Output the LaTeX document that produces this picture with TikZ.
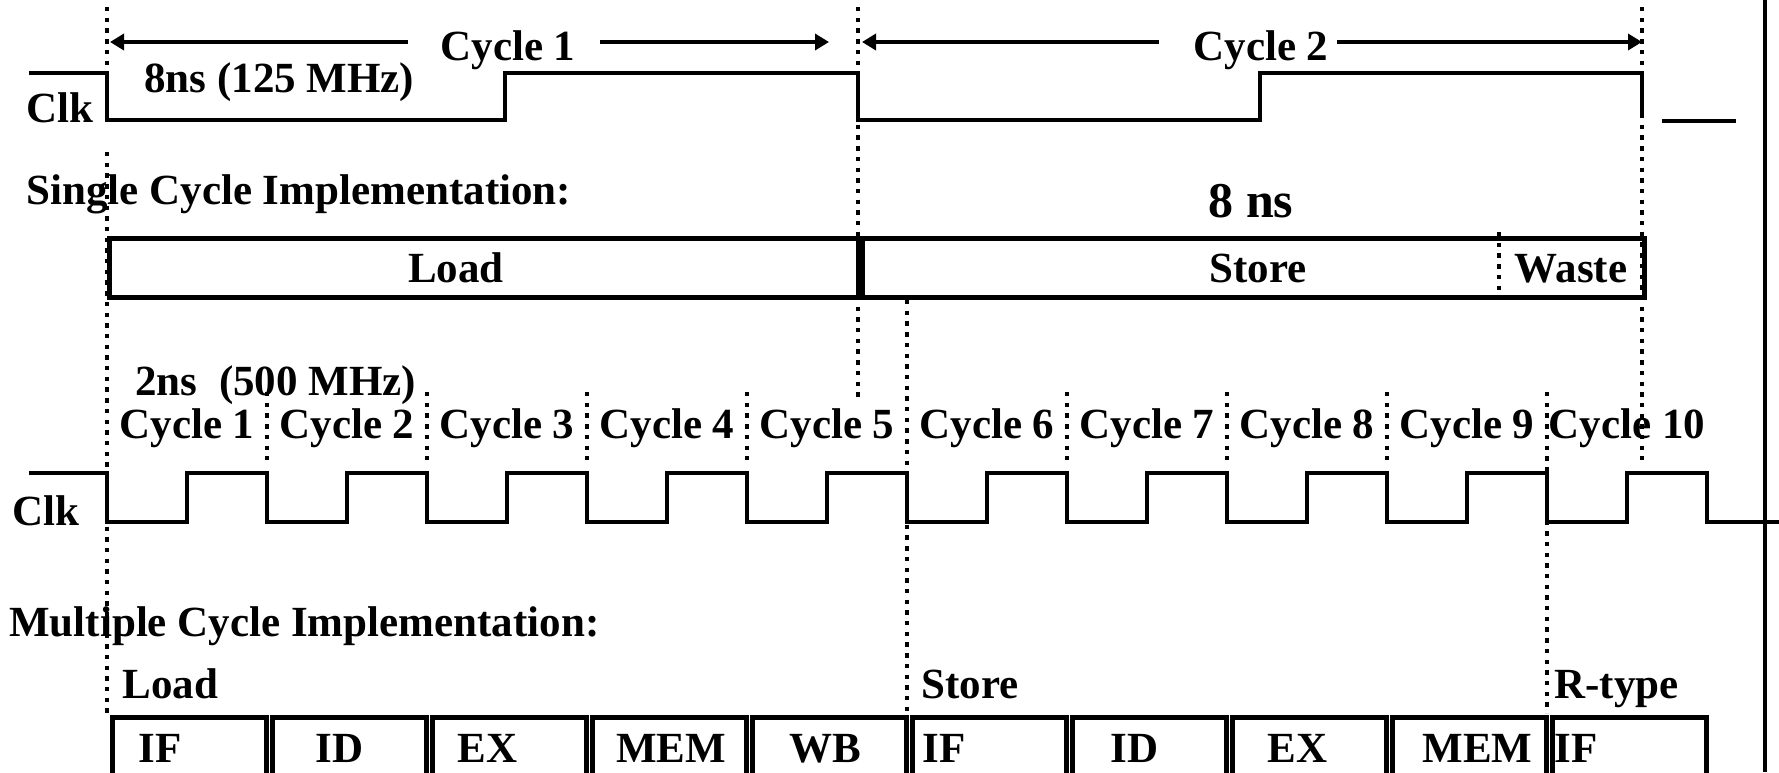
\documentclass[tikz,border=0pt]{standalone}
\usepackage{fontspec}
\setmainfont{Liberation Serif}
\usetikzlibrary{arrows.meta}

\begin{document}
\begin{tikzpicture}[
    x=0.5pt, y=-0.5pt,
    lbl/.style={inner sep=0pt, font=\bfseries\fontsize{21.5}{24}\selectfont},
    big/.style={inner sep=0pt, font=\bfseries\fontsize{25}{28}\selectfont},
    wave/.style={line width=2.3pt},
    guide/.style={line width=2.2pt, dash pattern=on 2.2pt off 3.15pt},
    span/.style={-{Triangle[length=7pt,width=8pt]}, line width=2.3pt},
    stage/.style={rectangle, draw, line width=2.3pt, inner sep=0pt, anchor=north west}
]
\useasboundingbox (0,0) rectangle (1779,772);

\draw[guide] (107,7) -- (107,77);
\draw[guide] (107,152) -- (107,713);
\draw[guide] (858,7) -- (858,397);
\draw[guide] (1642,7) -- (1642,460);
\draw[guide] (907,300) -- (907,713);
\draw[guide] (1547,392) -- (1547,713);
\draw[guide] (1499,232) -- (1499,298);
\foreach \x in {267,427,587,747,1067,1227,1387}
    \draw[guide] (\x,392) -- (\x,460);

\node[lbl, anchor=base west] (clka) at (26,122) {Clk};
\node[lbl, anchor=base west] (period1) at (144,92) {8ns (125 MHz)};
\node[lbl, anchor=base] (cyc1) at (508,60) {Cycle 1};
\node[lbl, anchor=base] (cyc2) at (1261,60) {Cycle 2};
\coordinate (c1a) at (408,42); \coordinate (c1b) at (110,42);
\coordinate (c1c) at (600,42); \coordinate (c1d) at (829,42);
\coordinate (c2a) at (1159,42); \coordinate (c2b) at (862,42);
\coordinate (c2c) at (1337,42); \coordinate (c2d) at (1642,42);
\draw[span] (c1a) -- (c1b);
\draw[span] (c1c) -- (c1d);
\draw[span] (c2a) -- (c2b);
\draw[span] (c2c) -- (c2d);

\draw[wave] (29,73) -- (107,73) -- (107,120) -- (505,120) -- (505,73) -- (858,73) -- (858,120)
    -- (1260,120) -- (1260,73) -- (1642,73) -- (1642,118);
\draw[wave] (1662,121) -- (1736,121);

\node[lbl, anchor=base west] (single) at (26,204) {Single Cycle Implementation:};
\node[big, anchor=base] (eightns) at (1251,217) {8 ns};
\node[stage, minimum width=374.5pt, minimum height=29.5pt] (sload) at (107,236) {};
\node[stage, minimum width=391pt, minimum height=29.5pt] (sstore) at (860,236) {};
\node[lbl, anchor=base] (loadlbl) at (456,282) {Load};
\node[lbl, anchor=base] (storelbl) at (1258,282) {Store};
\node[lbl, anchor=base] (wastelbl) at (1571,282) {Waste};

\node[lbl, anchor=base west] (period2) at (135,395) {2ns\ \ (500 MHz)};
\foreach \i in {1,...,10}
    \node[lbl, anchor=base] (mc\i) at ({27+160*\i},438) {Cycle \i};
\node[lbl, anchor=base west] (clkb) at (12,525) {Clk};
\draw[wave] (29,473) foreach \x in {107,267,...,1547} { -- (\x,473) -- (\x,522) -- (\x+80,522) -- (\x+80,473) }
    -- (1707,473) -- (1707,522) -- (1779,522);

\node[lbl, anchor=base west] (multi) at (9,636) {Multiple Cycle Implementation:};
\node[lbl, anchor=base west] (mload) at (122,698) {Load};
\node[lbl, anchor=base west] (mstore) at (921,698) {Store};
\node[lbl, anchor=base west] (mrtype) at (1554,698) {R-type};
\foreach \x/\s/\o [count=\n] in {107/IF/31, 267/ID/48, 427/EX/30, 587/MEM/29, 747/WB/42,
        907/IF/15, 1067/ID/43, 1227/EX/40, 1387/MEM/35, 1547/IF/7} {
    \node[stage, minimum width=77pt, minimum height=45pt] (box\n) at (\x+3,715) {};
    \node[lbl, anchor=base west] (stg\n) at (\x+\o,762) {\s};
}

\draw[line width=2.4pt] (1765,0) -- (1765,772);
\end{tikzpicture}
\end{document}
